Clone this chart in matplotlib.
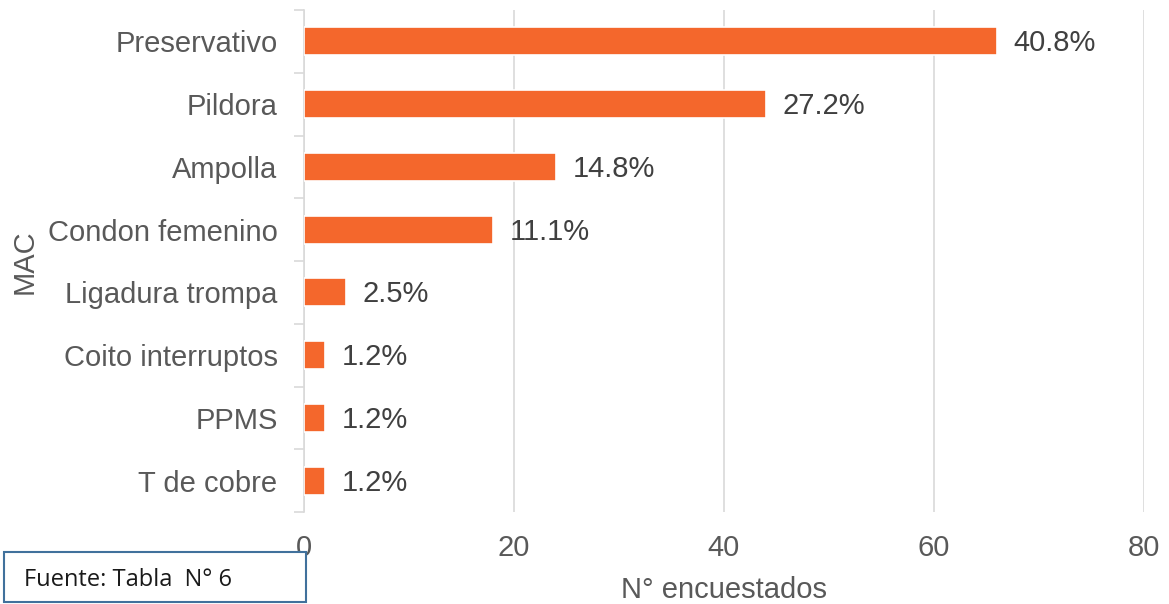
import matplotlib
matplotlib.use("Agg")
import matplotlib.pyplot as plt
from matplotlib.patches import Rectangle

categories = ["Preservativo", "Pildora", "Ampolla", "Condon femenino",
              "Ligadura trompa", "Coito interruptos", "PPMS", "T de cobre"]
counts = [66, 44, 24, 18, 4, 2, 2, 2]
pct_labels = ["40.8%", "27.2%", "14.8%", "11.1%", "2.5%", "1.2%", "1.2%", "1.2%"]
xticks = [0, 20, 40, 60, 80]

W, H = 1169, 604
fig = plt.figure(figsize=(W / 100, H / 100), dpi=100)
ax = fig.add_axes([304 / W, 1 - 512 / H, (1144 - 304) / W, (512 - 10) / H])

plt.rcParams['font.family'] = ['Liberation Sans', 'DejaVu Sans']
txt = "#595959"
grid_c = "#D9D9D9"
fs = 21

n = len(categories)
ypos = list(range(n))
ax.barh(ypos, counts, height=0.45, color="#F4672C", edgecolor="white", linewidth=1.2, zorder=3)
ax.set_ylim(n - 0.5, -0.5)
ax.set_xlim(0, 80)
ax.set_xticks(xticks)
ax.set_xticklabels([str(t) for t in xticks], fontsize=fs, color=txt, family=['Liberation Sans'])
ax.set_yticks(ypos)
ax.set_yticklabels(categories, fontsize=fs, color=txt, family=['Liberation Sans'])
ax.tick_params(axis='x', length=0, pad=16)
ax.tick_params(axis='y', length=0, pad=19)
# minor ticks at category boundaries
ax.set_yticks([i - 0.5 for i in range(n + 1)], minor=True)
ax.tick_params(axis='y', which='minor', length=7, color=grid_c, width=1.2)
ax.xaxis.grid(True, color=grid_c, linewidth=1.2, zorder=0)
ax.set_axisbelow(True)
for s in ["top", "right", "bottom"]:
    ax.spines[s].set_visible(False)
ax.spines["left"].set_color(grid_c)
ax.spines["left"].set_linewidth(1.2)

for y, v, lab in zip(ypos, counts, pct_labels):
    ax.text(v + 1.6, y + 0.03, lab, va='center', ha='left', fontsize=fs, color="#404040",
            family=['Liberation Sans'], zorder=4)

ax.set_xlabel("N° encuestados", fontsize=fs, color=txt, labelpad=10, family=['Liberation Sans'])
fig.text(25 / W, 1 - 262 / H, "MAC", rotation=90, fontsize=fs, color=txt,
         ha='center', va='center', family=['Liberation Sans'])

# Source box
box = Rectangle((4 / W, 1 - 602 / H), (306 - 4) / W, (602 - 552) / H,
                transform=fig.transFigure, facecolor="white", edgecolor="#41719C",
                linewidth=1.5, zorder=5)
fig.patches.append(box)
fig.text(24 / W, 1 - 580 / H, "Fuente: Tabla  N° 6", fontsize=17, color="#1a1a1a",
         ha='left', va='center', family=['Open Sans', 'DejaVu Sans'], zorder=6)

fig.savefig("out.png", dpi=100)
